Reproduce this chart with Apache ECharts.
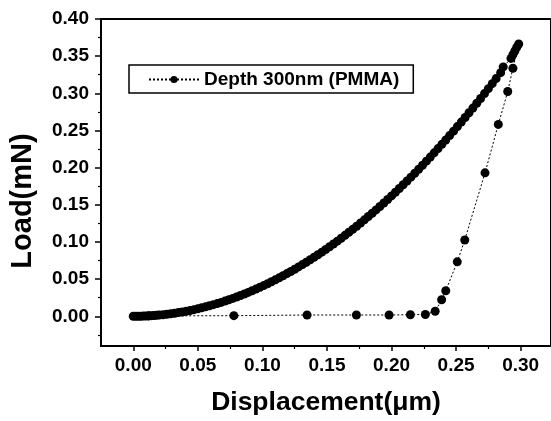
<!DOCTYPE html>
<html><head><meta charset="utf-8">
<script src="https://cdn.jsdelivr.net/npm/echarts@6/dist/echarts.min.js"></script>
<style>html,body{margin:0;padding:0;background:#fff}#c{width:551px;height:421px}</style>
</head><body><div id="c"></div>
<script>
var seriesName = 'Depth 300nm (PMMA)';
var loadX = [0.000,0.002,0.004,0.006,0.008,0.010,0.012,0.014,0.016,0.018,0.020,0.023,0.026,0.029,0.032,0.035,0.038,0.041,0.044,0.047,0.050,0.053,0.056,0.059,0.062,0.065,0.068,0.071,0.074,0.077,0.080,0.083,0.086,0.089,0.092,0.095,0.098,0.101,0.104,0.107,0.110,0.113,0.116,0.119,0.122,0.125,0.128,0.131,0.134,0.137,0.140,0.143,0.146,0.149,0.152,0.155,0.158,0.161,0.164,0.167,0.170,0.173,0.176,0.179,0.182,0.185,0.188,0.191,0.194,0.197,0.200,0.203,0.206,0.209,0.212,0.215,0.218,0.221,0.224,0.227,0.230,0.233,0.236,0.239,0.242,0.245,0.248,0.251,0.254,0.257,0.260,0.263,0.266,0.269,0.272,0.275,0.278,0.281,0.2845,0.2865,0.2925,0.294,0.2955,0.297,0.2985];
var loadY = [0.0000,0.0000,0.0001,0.0001,0.0003,0.0004,0.0006,0.0008,0.0010,0.0013,0.0016,0.0021,0.0027,0.0034,0.0041,0.0050,0.0058,0.0068,0.0078,0.0089,0.0101,0.0114,0.0127,0.0141,0.0156,0.0171,0.0187,0.0204,0.0222,0.0240,0.0259,0.0279,0.0300,0.0321,0.0343,0.0366,0.0389,0.0413,0.0438,0.0464,0.0490,0.0517,0.0545,0.0574,0.0603,0.0633,0.0664,0.0695,0.0727,0.0760,0.0794,0.0828,0.0863,0.0899,0.0936,0.0973,0.1011,0.1050,0.1089,0.1130,0.1170,0.1212,0.1255,0.1298,0.1342,0.1386,0.1431,0.1477,0.1524,0.1572,0.1620,0.1669,0.1719,0.1769,0.1820,0.1872,0.1925,0.1978,0.2032,0.2087,0.2142,0.2199,0.2256,0.2313,0.2372,0.2431,0.2491,0.2552,0.2613,0.2675,0.2738,0.2801,0.2866,0.2931,0.2996,0.3063,0.3130,0.3198,0.3278,0.3355,0.3470,0.3520,0.3570,0.3620,0.3664];
var unloadX = [0.2940,0.2900,0.2827,0.2724,0.2567,0.2509,0.2420,0.2388,0.2338,0.2262,0.2146,0.1981,0.1728,0.1346,0.0779,0.0120];
var unloadY = [0.3338,0.3024,0.2582,0.1930,0.1027,0.0732,0.0343,0.0223,0.0067,0.0024,0.0021,0.0017,0.0017,0.0017,0.0008,0.0005];
var xMajorTicks = [0.00,0.05,0.10,0.15,0.20,0.25,0.30];
var xMinorTicks = [0.025,0.075,0.125,0.175,0.225,0.275];
var yMajorTicks = [0.00,0.05,0.10,0.15,0.20,0.25,0.30,0.35,0.40];
var yMinorTicks = [-0.025,0.025,0.075,0.125,0.175,0.225,0.275,0.325,0.375];
var xTitle = 'Displacement(\u03bcm)';
var yTitle = 'Load(mN)';

var data = [];
for (var i = 0; i < loadX.length; i++) data.push([loadX[i], loadY[i]]);
for (var j = 0; j < unloadX.length; j++) data.push([unloadX[j], unloadY[j]]);

var FONT = '"Liberation Sans", Arial, Helvetica, sans-serif';
var chart = echarts.init(document.getElementById('c'), null, {renderer: 'canvas'});
var xMin = -0.025, xMax = 0.3235, yMin = -0.04, yMax = 0.40;
function fmt(v){ return v.toFixed(2); }
chart.setOption({
  backgroundColor: '#fff',
  animation: false,
  grid: {left: 101, right: 0, top: 19, bottom: 74, show: true, borderColor: '#000', borderWidth: 2, backgroundColor: 'transparent'},
  legend: {
    left: 129, top: 65, orient: 'horizontal',
    data: [seriesName],
    itemWidth: 50, itemHeight: 9,
    padding: [5, 14, 4, 19],
    borderColor: '#000', borderWidth: 1.5,
    textStyle: {fontFamily: FONT, fontWeight: 'bold', fontSize: 19, color: '#000'}
  },
  xAxis: [{
    type: 'value', min: xMin, max: xMax, position: 'bottom',
    axisLine: {show: true, onZero: false, lineStyle: {color: '#000', width: 2}},
    axisTick: {show: true, inside: false, length: 5, lineStyle: {color: '#000', width: 1.5}, customValues: xMajorTicks},
    axisLabel: {show: true, customValues: xMajorTicks, formatter: fmt, margin: 10, fontFamily: FONT, fontWeight: 'bold', fontSize: 19, color: '#000'},
    splitLine: {show: false},
    name: xTitle, nameLocation: 'middle', nameGap: 43,
    nameTextStyle: {fontFamily: FONT, fontWeight: 'bold', fontSize: 26.5, color: '#000'}
  }, {
    type: 'value', min: xMin, max: xMax, position: 'bottom',
    axisLine: {show: false, onZero: false},
    axisTick: {show: true, inside: false, length: 3, lineStyle: {color: '#000', width: 1.2}, customValues: xMinorTicks},
    axisLabel: {show: false},
    splitLine: {show: false}
  }],
  yAxis: [{
    type: 'value', min: yMin, max: yMax, position: 'left',
    axisLine: {show: true, onZero: false, lineStyle: {color: '#000', width: 2}},
    axisTick: {show: true, inside: false, length: 6, lineStyle: {color: '#000', width: 1.5}, customValues: yMajorTicks},
    axisLabel: {show: true, customValues: yMajorTicks, formatter: fmt, margin: 12, fontFamily: FONT, fontWeight: 'bold', fontSize: 19, color: '#000'},
    splitLine: {show: false}
  }, {
    type: 'value', min: yMin, max: yMax, position: 'left',
    axisLine: {show: false, onZero: false},
    axisTick: {show: true, inside: false, length: 3, lineStyle: {color: '#000', width: 1.2}, customValues: yMinorTicks},
    axisLabel: {show: false},
    splitLine: {show: false}
  }],
  graphic: [{
    type: 'text', x: 23, y: 201, rotation: Math.PI / 2,
    style: {text: yTitle, fontFamily: FONT, fontWeight: 'bold', fontSize: 29, fill: '#000', align: 'center', verticalAlign: 'middle'}
  }],
  series: [{
    name: seriesName, type: 'line', data: data,
    xAxisIndex: 0, yAxisIndex: 0,
    symbol: 'circle', symbolSize: 9, showSymbol: true,
    itemStyle: {color: '#000'},
    lineStyle: {color: '#000', width: 1, type: [2, 2]},
    clip: false
  }]
});
</script></body></html>
